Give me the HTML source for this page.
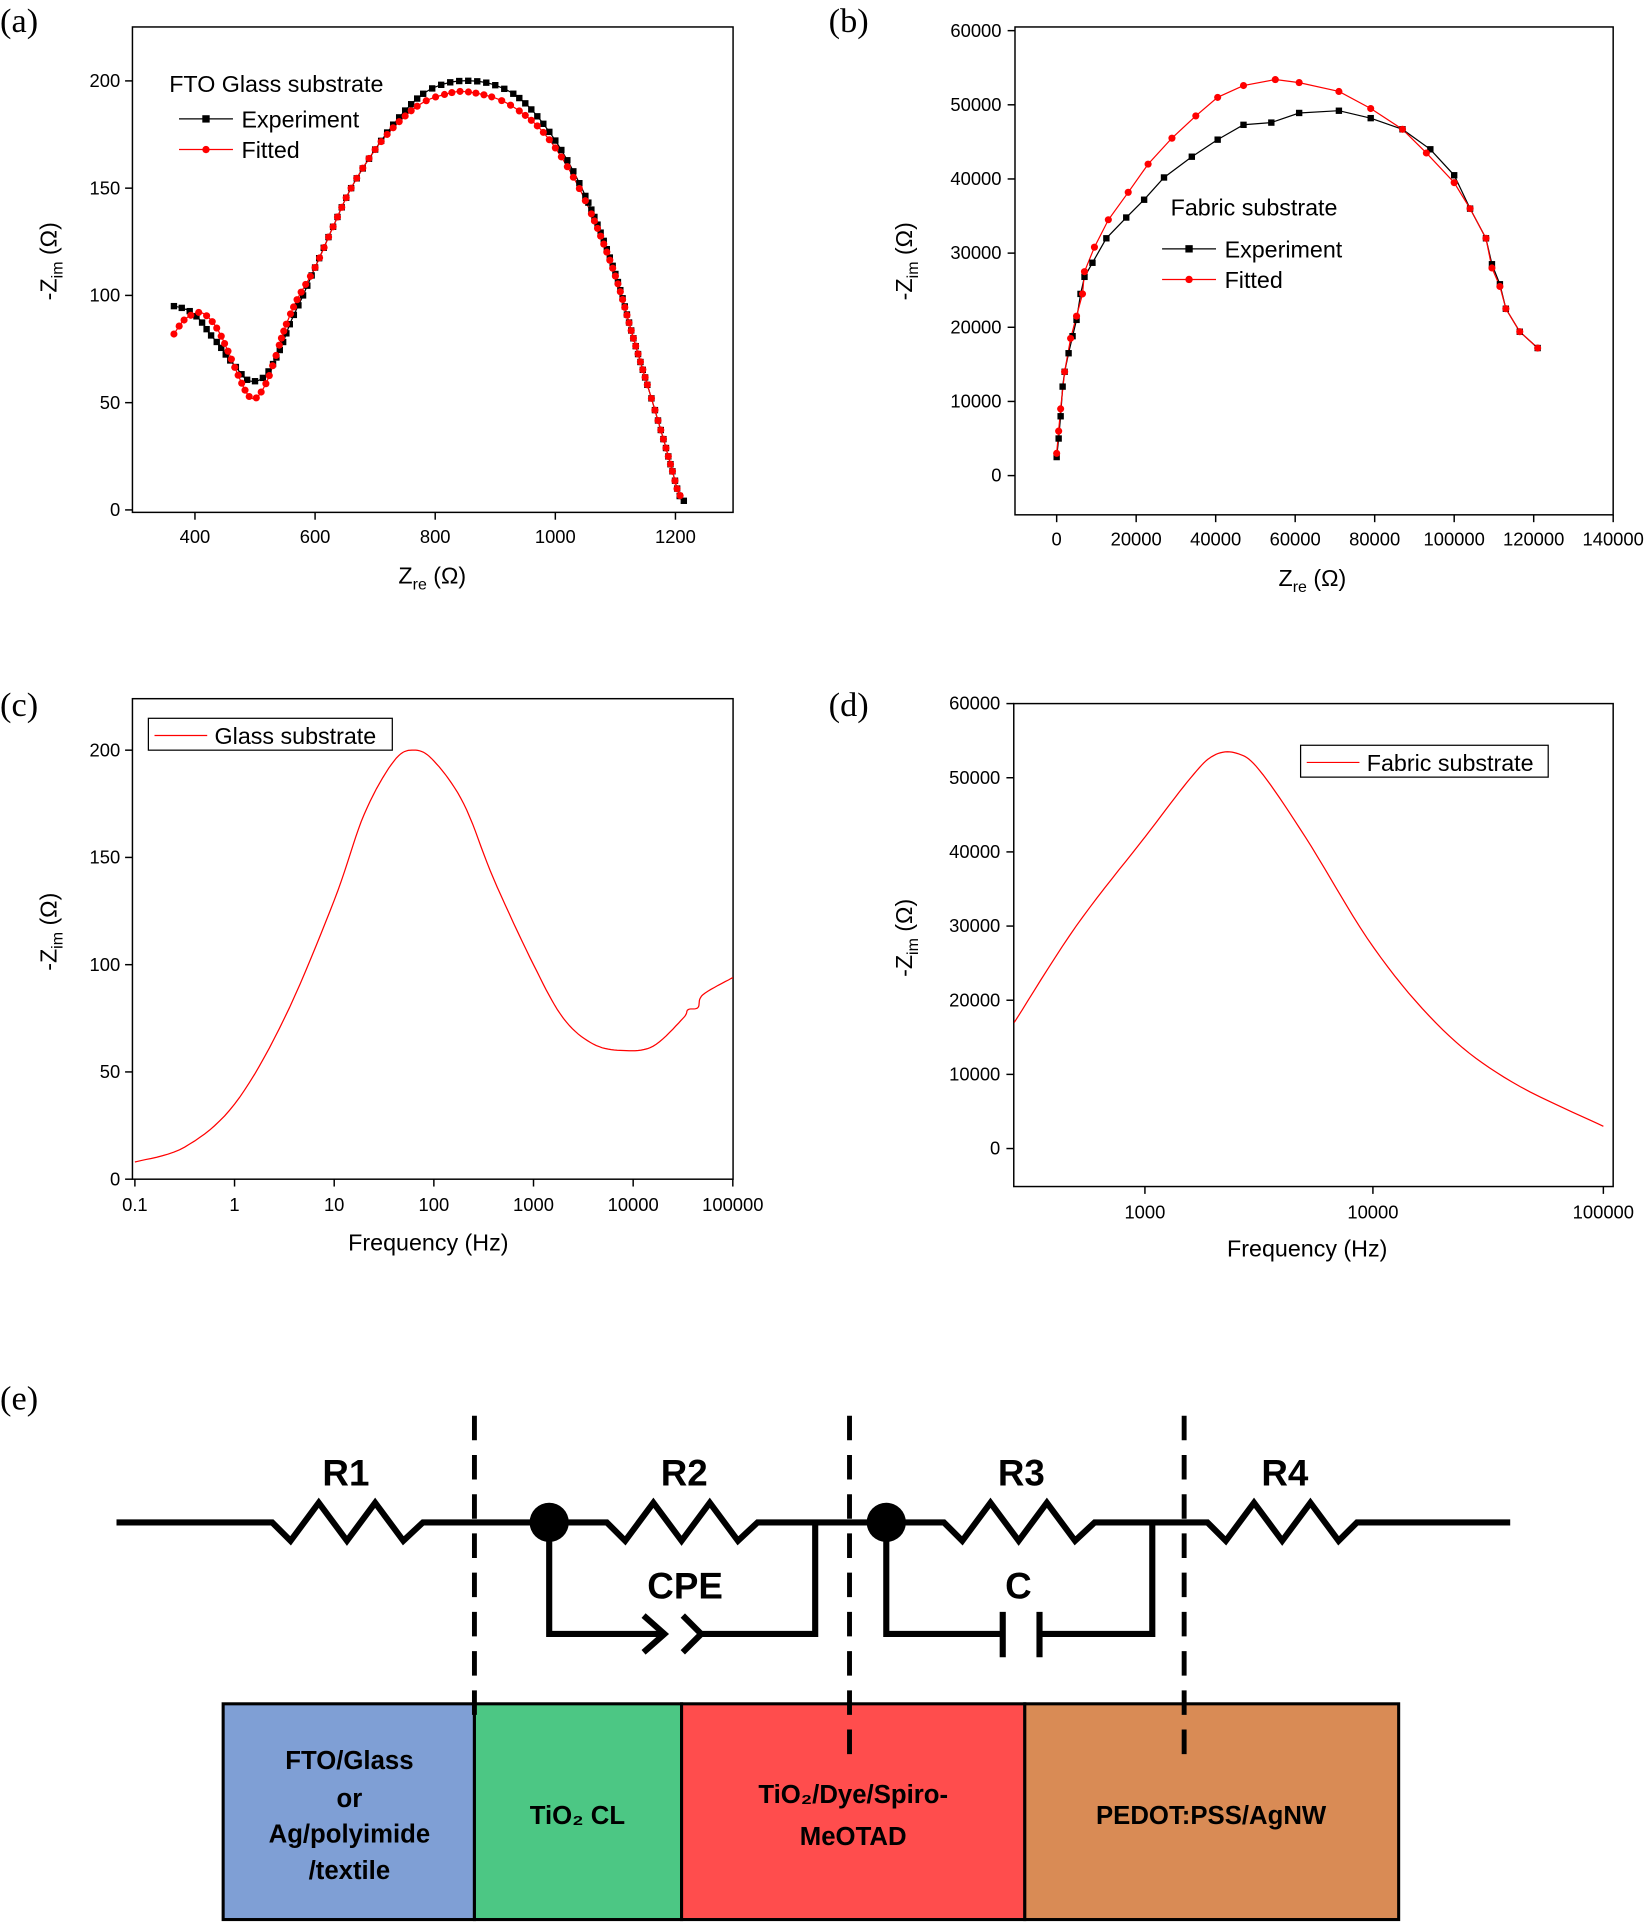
<!DOCTYPE html>
<html><head><meta charset="utf-8"><style>
html,body{margin:0;padding:0;background:#fff}
svg{display:block}
text{font-family:"Liberation Sans",sans-serif;fill:#000}
.t{font-size:15px}
.ser{font-family:"Liberation Serif",serif;font-size:28px}
.lab{font-size:19px}
.bold{font-weight:bold}
</style></head><body>
<svg id="s" width="1650" height="1922" viewBox="0 0 1346 1568" xmlns="http://www.w3.org/2000/svg">
<rect width="1346" height="1568" fill="#fff"/>
<text class="ser" x="0" y="26">(a)</text>
<text class="ser" x="676" y="26">(b)</text>
<text class="ser" x="0" y="584">(c)</text>
<text class="ser" x="676" y="584">(d)</text>
<text class="ser" x="0" y="1150">(e)</text>

<g fill="none" stroke="#000" stroke-width="1.2">
<rect x="108" y="22" width="490" height="396"/>
<rect x="828" y="22" width="488" height="398"/>
<rect x="108" y="570" width="490" height="392"/>
<rect x="827" y="574" width="489" height="394"/>
</g>
<g id="ticks" stroke="#000" stroke-width="1.2"></g>
<g id="tl" class="t"></g>

<text class="lab" x="325" y="476">Z<tspan font-size="13" dy="5">re</tspan><tspan dy="-5"> (Ω)</tspan></text>
<text class="lab" x="1043" y="478">Z<tspan font-size="13" dy="5">re</tspan><tspan dy="-5"> (Ω)</tspan></text>
<text class="lab" x="284" y="1020">Frequency (Hz)</text>
<text class="lab" x="1001" y="1025">Frequency (Hz)</text>
<text class="lab" transform="translate(46,245) rotate(-90)">-Z<tspan font-size="13" dy="5">im</tspan><tspan dy="-5"> (Ω)</tspan></text>
<text class="lab" transform="translate(744,245) rotate(-90)">-Z<tspan font-size="13" dy="5">im</tspan><tspan dy="-5"> (Ω)</tspan></text>
<text class="lab" transform="translate(46,792) rotate(-90)">-Z<tspan font-size="13" dy="5">im</tspan><tspan dy="-5"> (Ω)</tspan></text>
<text class="lab" transform="translate(744,797) rotate(-90)">-Z<tspan font-size="13" dy="5">im</tspan><tspan dy="-5"> (Ω)</tspan></text>

<g id="curves"></g>

<text class="lab" x="138" y="75">FTO Glass substrate</text>
<line x1="146" y1="97" x2="190" y2="97" stroke="#000"/><rect x="165" y="94" width="6" height="6"/>
<text class="lab" x="197" y="104">Experiment</text>
<line x1="146" y1="122" x2="190" y2="122" stroke="#f00"/><circle cx="168" cy="122" r="3" fill="#f00"/>
<text class="lab" x="197" y="129">Fitted</text>
<text class="lab" x="955" y="176">Fabric substrate</text>
<line x1="948" y1="203" x2="992" y2="203" stroke="#000"/><rect x="967" y="200" width="6" height="6"/>
<text class="lab" x="999" y="210">Experiment</text>
<line x1="948" y1="228" x2="992" y2="228" stroke="#f00"/><circle cx="970" cy="228" r="3" fill="#f00"/>
<text class="lab" x="999" y="235">Fitted</text>
<rect x="121" y="586" width="199" height="26" fill="none" stroke="#000"/>
<line x1="126" y1="600" x2="169" y2="600" stroke="#f00"/>
<text class="lab" x="175" y="607">Glass substrate</text>
<rect x="1061" y="608" width="202" height="26" fill="none" stroke="#000"/>
<line x1="1066" y1="622" x2="1109" y2="622" stroke="#f00"/>
<text class="lab" x="1115" y="629">Fabric substrate</text>

<g fill="none" stroke="#000" stroke-width="5" stroke-linejoin="miter">
<polyline points="95,1242 222,1242 237,1257 260,1226 283,1257 306,1226 329,1257 345,1242 495,1242 510,1257 533,1226 556,1257 579,1226 602,1257 618,1242 770,1242 785,1257 808,1226 831,1257 854,1226 877,1257 893,1242 985,1242 1000,1257 1023,1226 1046,1257 1069,1226 1092,1257 1107,1242 1232,1242"/>
<polyline points="448,1242 448,1333 540,1333"/>
<polyline points="525,1318 542,1333 525,1348"/>
<polyline points="557,1318 572,1333 557,1348"/>
<polyline points="572,1333 665,1333 665,1242"/>
<polyline points="723,1242 723,1333 816,1333"/>
<line x1="818" y1="1315" x2="818" y2="1352"/>
<line x1="848" y1="1315" x2="848" y2="1352"/>
<polyline points="848,1333 940,1333 940,1242"/>
</g>
<circle cx="448" cy="1242" r="16"/><circle cx="723" cy="1242" r="16"/>
<g class="bold" font-size="30">
<text x="263" y="1212">R1</text><text x="539" y="1212">R2</text><text x="814" y="1212">R3</text><text x="1029" y="1212">R4</text>
<text x="528" y="1304">CPE</text><text x="820" y="1304">C</text>
</g>
<g stroke="#000" stroke-width="2.5">
<rect x="182" y="1390" width="205" height="176" fill="#7f9fd5"/>
<rect x="387" y="1390" width="169" height="176" fill="#4cc784"/>
<rect x="556" y="1390" width="280" height="176" fill="#ff4d4d"/>
<rect x="836" y="1390" width="305" height="176" fill="#d98b55"/>
</g>
<g stroke="#000" stroke-width="4" stroke-dasharray="20,12">
<line x1="387" y1="1155" x2="387" y2="1400"/>
<line x1="693" y1="1155" x2="693" y2="1435"/>
<line x1="966" y1="1155" x2="966" y2="1435"/>
</g>
<g class="bold" font-size="21" text-anchor="middle">
<text x="285" y="1443">FTO/Glass</text><text x="285" y="1474">or</text>
<text x="285" y="1503">Ag/polyimide</text><text x="285" y="1533">/textile</text>
<text x="471" y="1488">TiO₂ CL</text>
<text x="696" y="1471">TiO₂/Dye/Spiro-</text><text x="696" y="1505">MeOTAD</text>
<text x="988" y="1488">PEDOT:PSS/AgNW</text>
</g>
</svg>
<script>
var NS="http://www.w3.org/2000/svg";
function el(p,n,a,t){var e=document.createElementNS(NS,n);for(var k in a)e.setAttribute(k,a[k]);if(t!=null)e.textContent=t;document.getElementById(p).appendChild(e);return e;}
function tick(x1,y1,x2,y2){el("ticks","line",{x1:x1,y1:y1,x2:x2,y2:y2});}
[[400,159],[600,257],[800,355],[1000,453],[1200,551]].forEach(function(v){tick(v[1],418,v[1],424);el("tl","text",{x:v[1],y:443,"text-anchor":"middle"},v[0]);});
[0,50,100,150,200].forEach(function(v){var y=416-v*1.75;tick(102,y,108,y);el("tl","text",{x:98,y:y+5,"text-anchor":"end"},v);});
for(var i=0;i<=14;i+=2){var x=862+i*32.43;tick(x,420,x,426);el("tl","text",{x:x,y:445,"text-anchor":"middle"},i*10000);}
for(var i=0;i<=6;i++){var y=388-i*60.5;tick(822,y,828,y);el("tl","text",{x:817,y:y+5,"text-anchor":"end"},i*10000);}
["0.1","1","10","100","1000","10000","100000"].forEach(function(s,i){var x=110+i*81.3;tick(x,962,x,968);el("tl","text",{x:x,y:988,"text-anchor":"middle"},s);});
[0,50,100,150,200].forEach(function(v){var y=962-v*1.75;tick(102,y,108,y);el("tl","text",{x:98,y:y+5,"text-anchor":"end"},v);});
[["1000",934],["10000",1120],["100000",1308]].forEach(function(v){tick(v[1],968,v[1],974);el("tl","text",{x:v[1],y:994,"text-anchor":"middle"},v[0]);});
for(var i=0;i<=6;i++){var y=937-i*60.5;tick(821,y,827,y);el("tl","text",{x:816,y:y+5,"text-anchor":"end"},i*10000);}

function cr(pts,n){var out=[];for(var i=0;i<pts.length-1;i++){var p0=pts[Math.max(0,i-1)],p1=pts[i],p2=pts[i+1],p3=pts[Math.min(pts.length-1,i+2)];for(var t=0;t<n;t++){var u=t/n,u2=u*u,u3=u2*u;out.push([0,1].map(function(k){return 0.5*((2*p1[k])+(-p0[k]+p2[k])*u+(2*p0[k]-5*p1[k]+4*p2[k]-p3[k])*u2+(-p0[k]+3*p1[k]-3*p2[k]+p3[k])*u3);}));}}out.push(pts[pts.length-1]);return out;}
function path(pts,col,w){el("curves","polyline",{points:pts.map(function(p){return p[0].toFixed(1)+","+p[1].toFixed(1)}).join(" "),fill:"none",stroke:col,"stroke-width":w});}
function markers(pts,step,type,col){var acc=step,prev=null;pts.forEach(function(p){if(prev){acc+=Math.hypot(p[0]-prev[0],p[1]-prev[1]);}if(acc>=step){acc=0;if(type=="s")el("curves","rect",{x:p[0]-2.6,y:p[1]-2.6,width:5.2,height:5.2,fill:col});else el("curves","circle",{cx:p[0],cy:p[1],r:2.9,fill:col});}prev=p;});}
var ax=function(d){return d.map(function(p){return[159+(p[0]-400)*0.49,416-p[1]*1.75];});};
var aB=ax([[365,95],[380,94],[395,92],[410,88],[425,82],[440,77],[455,71],[470,66],[485,61],[500,60],[515,62],[530,68],[545,77],[560,88],[580,100],[600,113],[630,132],[660,150],[700,168],[740,183],[780,194],[820,199],[860,200],[900,198],[940,192],[980,180],[1020,163],[1060,140],[1100,110],[1130,80],[1160,52],[1180,33],[1195,18],[1205,8],[1212,4],[1215,5]]);
var aR=ax([[365,82],[380,88],[395,91],[410,92],[425,89],[440,83],[455,74],[470,64],[485,55],[495,52],[505,53],[520,60],[535,72],[550,85],[570,98],[600,113],[630,132],[660,150],[700,168],[740,181],[780,190],[820,194],[850,195],[900,192],[940,186],[980,176],[1020,160],[1060,138],[1100,109],[1130,80],[1160,52],[1180,33],[1195,18],[1205,8],[1215,5]]);
var a1=cr(aB,8),a2=cr(aR,8);
path(a1,"#000",1);path(a2,"#f00",1);markers(a1,6,"s","#000");markers(a2,6,"c","#f00");
var bx=function(d){return d.map(function(p){return[862+p[0]*0.003243,388-p[1]*0.00605];});};
var bB=bx([[0,2500],[500,5000],[1000,8000],[1500,12000],[2000,14000],[3000,16500],[4000,18800],[5000,21000],[6000,24500],[7000,26800],[9000,28700],[12500,32000],[17500,34800],[22000,37200],[27000,40200],[34000,43000],[40500,45300],[47000,47300],[54000,47600],[61000,48900],[71000,49200],[79000,48200],[87000,46700],[94000,44000],[100000,40500],[104000,36000],[108000,32000],[109500,28500],[111500,25800],[113000,22500],[116500,19400],[121000,17200]]);
var bR=bx([[0,3000],[500,6000],[1000,9000],[2000,14000],[3500,18500],[5000,21500],[6500,24500],[7000,27500],[9500,30800],[13000,34500],[18000,38200],[23000,42000],[29000,45500],[35000,48500],[40500,51000],[47000,52600],[55000,53400],[61000,53000],[71000,51800],[79000,49500],[87000,46700],[93000,43500],[100000,39500],[104000,36000],[108000,32000],[109500,28000],[111500,25500],[113000,22500],[116500,19400],[121000,17200]]);
path(bB,"#000",1);path(bR,"#f00",1);
bB.forEach(function(p){el("curves","rect",{x:p[0]-2.6,y:p[1]-2.6,width:5.2,height:5.2,fill:"#000"});});
bR.forEach(function(p){el("curves","circle",{cx:p[0],cy:p[1],r:2.9,fill:"#f00"});});
var c=[[-1,8],[-0.5,15],[0,35],[0.5,75],[1,130],[1.3,170],[1.6,195],[1.8,200],[2,195],[2.3,175],[2.6,140],[3,100],[3.3,75],[3.6,63],[3.9,60],[4.2,62],[4.5,75],[4.55,79],[4.65,80],[4.7,86],[5,94]].map(function(p){return[110+(p[0]+1)*81.3,962-p[1]*1.75];});
path(cr(c,10),"#f00",1);
var d=[[2.43,17000],[2.7,30000],[3,42000],[3.2,50000],[3.3,53000],[3.4,53300],[3.5,51000],[3.7,42000],[4,27000],[4.3,16000],[4.6,9000],[5,3000]].map(function(p){return[934+(p[0]-3)*187,937-p[1]*0.00605];});
path(cr(d,10),"#f00",1);
</script>
</body></html>
